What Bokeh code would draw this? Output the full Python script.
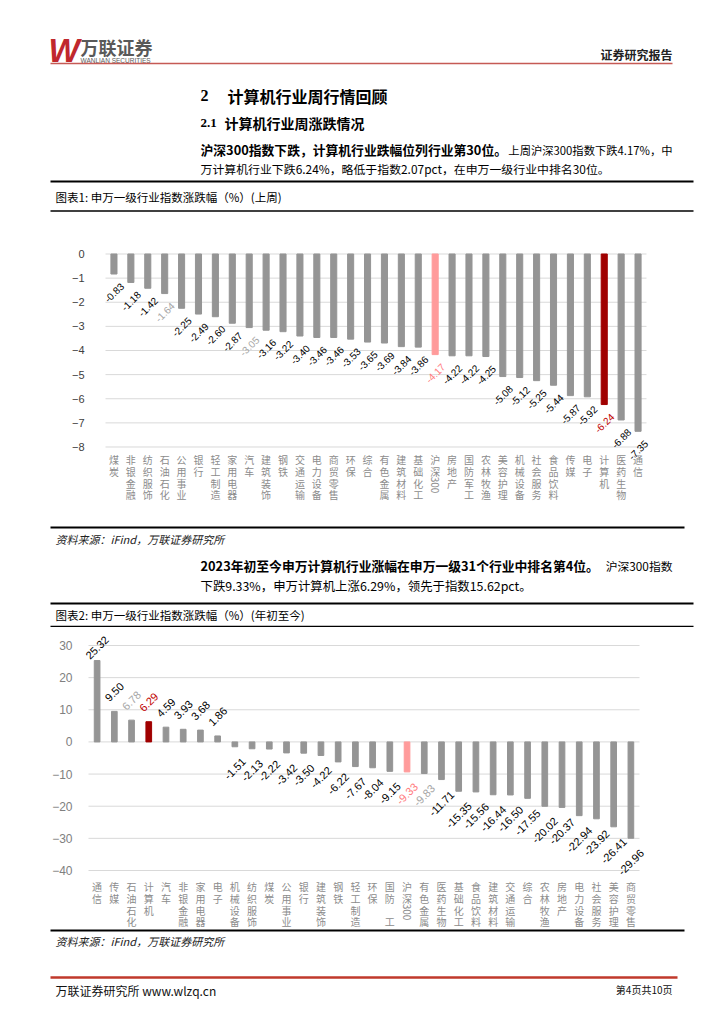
import math
from bokeh.plotting import figure
from bokeh.models import Range1d, FactorRange, ColumnDataSource, LabelSet, FixedTicker
from bokeh.layouts import column
from bokeh.core.properties import value
from bokeh.embed import file_html
from bokeh.resources import INLINE

# ---------------- data ----------------
week_industries = ["煤炭", "非银金融", "纺织服饰", "石油石化", "公用事业", "银行", "轻工制造", "家用电器",
                   "汽车", "建筑装饰", "钢铁", "交通运输", "电力设备", "商贸零售", "环保", "综合",
                   "有色金属", "建筑材料", "基础化工", "沪深300", "房地产", "国防军工", "农林牧渔", "美容护理",
                   "机械设备", "社会服务", "食品饮料", "传媒", "电子", "计算机", "医药生物", "通信"]
week_changes = [-0.83, -1.18, -1.42, -1.64, -2.25, -2.49, -2.60, -2.87,
                -3.05, -3.16, -3.22, -3.40, -3.46, -3.46, -3.53, -3.65,
                -3.69, -3.84, -3.86, -4.17, -4.22, -4.22, -4.25, -5.08,
                -5.12, -5.25, -5.44, -5.87, -5.92, -6.24, -6.88, -7.35]
week_ticks = [0, -1, -2, -3, -4, -5, -6, -7, -8]

ytd_industries = ["通信", "传媒", "石油石化", "计算机", "汽车", "非银金融", "家用电器", "电子",
                  "机械设备", "纺织服饰", "煤炭", "公用事业", "银行", "建筑装饰", "钢铁", "轻工制造",
                  "环保", "国防军工", "沪深300", "有色金属", "医药生物", "基础化工", "食品饮料", "建筑材料",
                  "交通运输", "综合", "农林牧渔", "房地产", "电力设备", "社会服务", "美容护理", "商贸零售"]
ytd_changes = [25.32, 9.50, 6.78, 6.29, 4.59, 3.93, 3.68, 1.86,
               -1.51, -2.13, -2.22, -3.42, -3.50, -4.22, -6.22, -7.67,
               -8.04, -9.15, -9.33, -9.83, -11.71, -15.35, -15.56, -16.44,
               -16.50, -17.55, -20.02, -20.37, -22.94, -23.92, -26.41, -29.96]
ytd_ticks = [30, 20, 10, 0, -10, -20, -30, -40]

# ---------------- styles ----------------
CJK = "Noto Sans CJK SC"
LAT = "Liberation Sans"
SERIF = "Liberation Serif"
W = 724
GRAY_BAR = "#959595"
INDEX_BAR = "#FF9B9B"
FOCUS_BAR = "#A00000"
INDEX_LABEL = "#FF7C80"
FOCUS_LABEL = "#C00000"
MUTED_LABEL = "#A6A6A6"


def deco(top, bottom):
    p = figure(width=W, height=bottom - top, x_range=Range1d(0, W), y_range=Range1d(bottom, top),
               output_backend="svg", toolbar_location=None, min_border=0, frame_align=False,
               x_axis_location=None, y_axis_location=None)
    p.grid.visible = False
    p.outline_line_color = None
    return p


def txt(p, x, y, s, size, font=CJK, color="#000000", style="normal", align="left"):
    p.text(x=[x], y=[y], text=[s], text_font=value(font), text_font_size=f"{size}px",
           text_color=color, text_font_style=style, text_align=align, text_baseline="middle")


def hline(p, x0, x1, y, w, color="#000000"):
    p.segment(x0=[x0], y0=[y], x1=[x1], y1=[y], line_width=w, line_color=color)


def bar_chart(cats, vals, ticks, yr, height, bl, br, pad, bar_w, lab_size, gap,
              muted, tick_color, tick_size, tick_standoff, cat_first, cat_step, blank=None):
    p = figure(width=W, height=height,
               x_range=FactorRange(*cats, range_padding=pad, range_padding_units="absolute"),
               y_range=Range1d(*yr), output_backend="svg", toolbar_location=None, frame_align=False,
               min_border_left=bl, min_border_right=br, min_border_top=0, min_border_bottom=0,
               x_axis_location=None)
    p.outline_line_color = None
    p.grid.visible = False
    p.yaxis.ticker = FixedTicker(ticks=ticks)
    p.yaxis.major_label_overrides = {t: str(t).replace("-", "\u2212") for t in ticks}
    p.yaxis.axis_line_color = None
    p.yaxis.major_tick_line_color = None
    p.yaxis.minor_tick_line_color = None
    p.yaxis.major_label_text_font = LAT
    p.yaxis.major_label_text_font_size = f"{tick_size}px"
    p.yaxis.major_label_text_color = tick_color
    p.yaxis.major_label_standoff = tick_standoff

    # horizontal grid lines spanning the category band
    n = len(cats)
    p.segment(x0=[0] * len(ticks), x1=[n] * len(ticks), y0=ticks, y1=ticks,
              line_color="#D9D9D9", line_width=1)

    ppu = height / (yr[1] - yr[0])
    top_tick, low_tick = max(ticks), min(ticks)
    colors, lcolors, texts, offs = [], [], [], []
    for c, v in zip(cats, vals):
        if c == "沪深300":
            colors.append(INDEX_BAR); lcolors.append(INDEX_LABEL)
        elif c == "计算机":
            colors.append(FOCUS_BAR); lcolors.append(FOCUS_LABEL)
        else:
            colors.append(GRAY_BAR)
            lcolors.append(MUTED_LABEL if c in muted else "#000000")
        s = f"{v:.2f}"
        texts.append(s)
        o = (len(s) * 0.56 * lab_size + lab_size) * 0.3536 + gap
        if v >= 0:
            o = min(o, (top_tick - v) * ppu - 2)
            offs.append(o)
        else:
            offs.append(-o)
    src = ColumnDataSource(dict(x=cats, top=vals, color=colors, lcolor=lcolors, text=texts, off=offs))
    p.vbar(x="x", top="top", bottom=0, width=bar_w, color="color", source=src)
    p.add_layout(LabelSet(x="x", y="top", text="text", source=src, y_offset="off",
                          angle=math.pi / 4, text_align="center", text_baseline="middle",
                          text_font=value(LAT), text_font_size=f"{lab_size}px", text_color="lcolor"))

    # category names written vertically, one character under another
    cx, cy, ct, co, ca = [], [], [], [], []
    for c in cats:
        parts = list(c)
        if c.endswith("300"):
            parts = list(c[:-3]) + ["300"]
        if blank and c in blank:
            parts = [ch if ch not in blank[c] else "" for ch in parts]
        pos = cat_first
        for ch in parts:
            cx.append(c); cy.append(low_tick); ct.append(ch)
            if ch == "300":
                co.append(pos + 2); ca.append(-math.pi / 2)
            else:
                co.append(pos); ca.append(0.0)
            pos += cat_step
    csrc = ColumnDataSource(dict(x=cx, y=cy, text=ct, off=co, angle=ca))
    p.text(x="x", y="y", text="text", y_offset="off", angle="angle", source=csrc,
           text_font=value(CJK), text_font_size="10px", text_color="#8C8C8C",
           text_align="center", text_baseline="middle")
    return p


# ---------------- page top ----------------
A = deco(0, 215)
txt(A, 48, 50, "W", 33, font=LAT, color="#C0282D", style="bold italic")
txt(A, 80, 46, "万联证券", 18, color="#595959", style="bold")
txt(A, 80, 59.5, "WANLIAN SECURITIES", 6.5, font=LAT, color="#595959")
txt(A, 672, 54, "证券研究报告", 12, color="#222222", style="bold", align="right")
hline(A, 50, 672, 63, 1.5, "#C55A55")
txt(A, 200, 95, "2", 16, font=SERIF, style="bold")
txt(A, 227, 95, "计算机行业周行情回顾", 16, style="bold")
txt(A, 200, 122, "2.1", 13, font=SERIF, style="bold")
txt(A, 224, 122, "计算机行业周涨跌情况", 14, style="bold")
txt(A, 200, 149, "沪深300指数下跌，计算机行业跌幅位列行业第30位。", 12.8, style="bold")
txt(A, 672, 149, "上周沪深300指数下跌4.17%，中", 11.3, align="right")
txt(A, 200, 168, "万计算机行业下跌6.24%，略低于指数2.07pct，在申万一级行业中排名30位。", 11.9)
hline(A, 50, 693, 181, 2)
txt(A, 55, 196, "图表1: 申万一级行业指数涨跌幅（%）(上周)", 11.5)
hline(A, 50, 693, 210.5, 1.5)

# ---------------- chart 1 ----------------
# frame spans page y 215..520, x 95..656; value 0 at y 253.5, -8 at y 446.5
B = bar_chart(week_industries, week_changes, week_ticks, (-11.047, 1.596), 305,
              95, 68, 0.5915, 0.36, 10, 5, ["石油石化", "汽车"], "#404040", 11, 5, 12.5, 11.8)

# ---------------- middle ----------------
C = deco(520, 627)
hline(C, 50, 684, 527, 2)
txt(C, 55, 538, "资料来源：iFind，万联证券研究所", 11, color="#222222", style="italic")
txt(C, 200, 565, "2023年初至今申万计算机行业涨幅在申万一级31个行业中排名第4位。", 12.8, style="bold")
txt(C, 672, 565, "沪深300指数", 11.8, align="right")
txt(C, 200, 585, "下跌9.33%，申万计算机上涨6.29%，领先于指数15.62pct。", 12.4)
hline(C, 50, 693, 603, 2)
txt(C, 55, 614.5, "图表2: 申万一级行业指数涨跌幅（%）(年初至今)", 11.5)
hline(C, 50, 693, 626, 1.5)

# ---------------- chart 2 ----------------
# frame spans page y 627..928, x 79..648; value 30 at y 645, -40 at y 870
D = bar_chart(ytd_industries, ytd_changes, ytd_ticks, (-58.05, 35.6), 301,
              79, 76, 0.5226, 0.33, 11, 7, ["石油石化", "有色金属"], "#808080", 12, 1, 16, 11.8,
              blank={"国防军工": "军"})

# ---------------- bottom ----------------
E = deco(928, 1024)
hline(E, 50, 684, 930, 2)
txt(E, 55, 940, "资料来源：iFind，万联证券研究所", 11, color="#222222", style="italic")
hline(E, 50, 677, 977, 2.5, "#C0392B")
txt(E, 55, 990, "万联证券研究所 www.wlzq.cn", 12, color="#111111")
txt(E, 672, 989, "第4页共10页", 10, color="#111111", align="right")

page = column(A, B, C, D, E, spacing=0)
open("out.html", "w").write(file_html(page, INLINE))
